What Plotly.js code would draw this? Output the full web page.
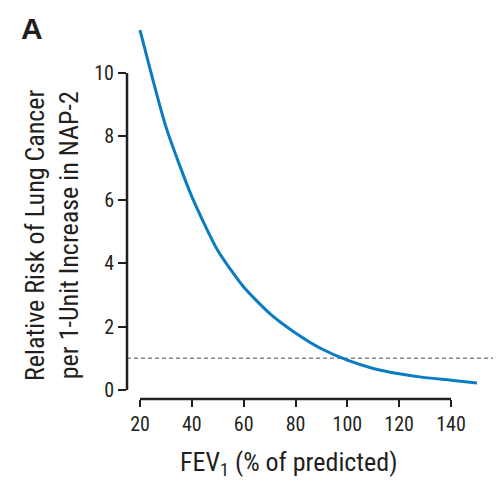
<!DOCTYPE html>
<html>
<head>
<meta charset="utf-8">
<script src="https://cdn.plot.ly/plotly-3.0.1.min.js"></script>
<style>html,body{margin:0;padding:0;background:#fff;}#chart{width:500px;height:483px;}</style>
</head>
<body>
<div id="chart"></div>
<script>
var fev1 = [20, 30, 40, 50, 60, 70, 80, 90, 100, 110, 120, 130, 140, 150];
var relativeRisk = [11.35, 8.3, 6.1, 4.4, 3.25, 2.42, 1.8, 1.3, 0.94, 0.68, 0.51, 0.39, 0.31, 0.22];
var xTicks = [20, 40, 60, 80, 100, 120, 140];
var yTicks = [0, 2, 4, 6, 8, 10];
var referenceRisk = 1;

var FONT = '"Liberation Sans Narrow", "Arial Narrow", "Roboto Condensed", "DejaVu Sans Condensed", Arial, sans-serif';
var INK = '#231f20';

var trace = {
  x: fev1, y: relativeRisk, type: 'scatter', mode: 'lines',
  line: {color: '#0a7cc1', width: 3, shape: 'spline', smoothing: 0.6},
  hoverinfo: 'skip'
};

var layout = {
  width: 500, height: 483,
  margin: {l: 127, r: 7, t: 25, b: 84},
  paper_bgcolor: '#fff', plot_bgcolor: '#fff',
  showlegend: false,
  font: {family: FONT, color: INK},
  xaxis: {
    range: [14.98, 156.2], showgrid: false, zeroline: false, showline: false,
    tickvals: xTicks, ticktext: xTicks.map(String),
    ticks: 'outside', ticklen: 7, tickwidth: 2, tickcolor: INK,
    tickfont: {family: FONT, size: 20, color: INK}
  },
  yaxis: {
    range: [-0.284, 11.514], showgrid: false, zeroline: false, showline: false,
    tickvals: yTicks, ticktext: yTicks.map(String),
    ticks: 'outside', ticklen: 8, tickwidth: 2, tickcolor: INK,
    tickfont: {family: FONT, size: 20, color: INK}
  },
  shapes: [
    {type: 'line', xref: 'paper', yref: 'y', x0: 0, x1: 0, y0: 0, y1: 10, line: {color: INK, width: 2.5}},
    {type: 'line', xref: 'x', yref: 'paper', x0: 20, x1: 140, y0: 0, y1: 0, line: {color: INK, width: 2.5}},
    {type: 'line', xref: 'paper', yref: 'y', x0: 0, x1: 1, y0: referenceRisk, y1: referenceRisk, layer: 'below',
     line: {color: '#8a8a8a', width: 1.5, dash: '4px,3px'}}
  ],
  annotations: [
    {text: '<b>A</b>', xref: 'paper', yref: 'paper', x: (19 - 127) / 366, y: (399 - 28) / 374,
     xanchor: 'left', yanchor: 'middle', showarrow: false, font: {family: 'Liberation Sans, Arial, sans-serif', size: 30, color: INK}},
    {text: 'Relative Risk of Lung Cancer<br>per 1-Unit Increase in NAP-2', xref: 'paper', yref: 'y',
     x: (52 - 127) / 366, y: 4.86, xanchor: 'center', yanchor: 'middle', textangle: -90, showarrow: false,
     font: {family: FONT, size: 26, color: INK}},
    {text: 'FEV<sub>1</sub> (% of predicted)', xref: 'paper', yref: 'paper',
     x: (288 - 127) / 366, y: (399 - 463) / 374, xanchor: 'center', yanchor: 'middle', showarrow: false,
     font: {family: FONT, size: 26, color: INK}}
  ]
};

Plotly.newPlot('chart', [trace], layout, {displayModeBar: false, staticPlot: true});
</script>
</body>
</html>
